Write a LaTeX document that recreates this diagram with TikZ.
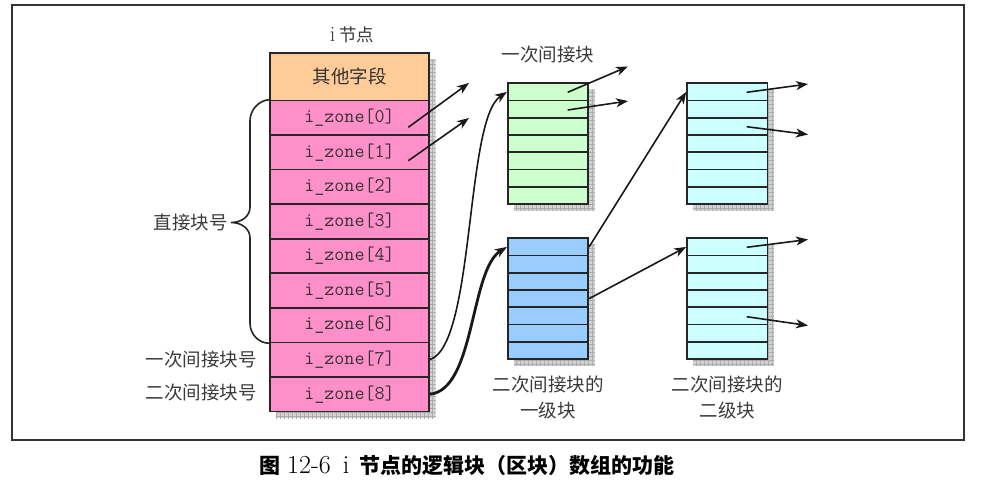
\documentclass[tikz,border=0pt]{standalone}
\usepackage{fontspec}
\newfontfamily\cjk{Noto Sans CJK SC}
\usetikzlibrary{arrows.meta,calc}
\definecolor{zonepink}{HTML}{FF8FC8}
\definecolor{hdrorange}{HTML}{FFCC99}
\definecolor{lvgreen}{HTML}{CCFFCC}
\definecolor{lvblue}{HTML}{99CCFF}
\definecolor{lvcyan}{HTML}{CCFFFF}
\definecolor{txtgray}{HTML}{3A3A3A}
\newcommand\dropshadow[4]{%
  \begin{scope}
    \clip (#1+6,#2+6) rectangle (#3+6.5,#4+6.5);
    \fill[gray!35] (#1+6,#2+6) rectangle (#3+6.5,#4+6.5);
    \draw[gray!65,line width=0.4pt,step=4pt] (#1,#2) grid (#3+7,#4+7);
  \end{scope}}
\begin{document}
\begin{tikzpicture}[x=1pt,y=-1pt,
  zone/.style={draw=black!85,line width=1.7pt,fill=zonepink,minimum width=159pt,minimum height=34.55pt,inner sep=0pt,font=\fontsize{19.5}{20}\selectfont\ttfamily,text=black!80},
  hdr/.style={zone,fill=hdrorange,minimum height=47.5pt,font=\fontsize{18.5}{22}\selectfont\cjk},
  blk/.style={draw=black!85,line width=1.7pt,fill=#1,minimum width=80.5pt,minimum height=17.24pt,inner sep=0pt},
  lbl/.style={font=\fontsize{18.5}{26}\selectfont\cjk,text=txtgray,inner sep=0pt},
  arr/.style={-{Stealth[length=12pt,width=9pt,inset=3.5pt]},line width=1.6pt,draw=black!90},
]
\useasboundingbox (0,0) rectangle (981,491);
% frame
\draw[line width=2pt,black!80] (12,5) rectangle (964,439.5);

% inode table
\dropshadow{270}{53}{429}{411.5}
\node[hdr] (hdr) at (349.5,76.75) {其他字段};
\foreach \k in {0,...,8}
  \node[zone] (z\k) at (349.5,{100.5+34.55*(\k+0.5)}) {i\_zone[\k]};

% blocks
\foreach \nm/\x/\y/\c in {g/548/83.3/lvgreen, b/548/238.3/lvblue, c/727.3/83.3/lvcyan, d/727.3/238.3/lvcyan}{
  \dropshadow{\x-40.25}{\y}{\x+40.25}{\y+120.7}
  \foreach \r in {1,...,7}
    \node[blk=\c] (\nm\r) at (\x,{\y+17.24*(\r-0.5)}) {};
}

% labels
\node[lbl,font=\fontsize{17.5}{20}\selectfont\cjk] (ti) at (352,35) {{\fontsize{22}{20}\selectfont\rmfamily i} 节点};
\node[lbl] (tg) at (548,55) {一次间接块};
\node[lbl,align=center] (tb) at (548,397) {二次间接块的\\一级块};
\node[lbl,align=center] (td) at (727.3,397) {二次间接块的\\二级块};
\node[lbl,anchor=east] (l7) at (257,359) {一次间接块号};
\node[lbl,anchor=east] (l8) at (257,392) {二次间接块号};
\node[lbl,anchor=east] (ld) at (228,222.5) {直接块号};

% brace
\coordinate (tip) at (231,222.5);
\draw[line width=1.6pt,black!85] (z0.north west) .. controls (259,100.5) and (250,109.5) .. (250,121)
  -- (250,207) .. controls (250,216) and (242,222.5) .. (tip)
  .. controls (242,222.5) and (250,229) .. (250,238)
  -- (250,323) .. controls (250,334.5) and (259,343.3) .. (z6.south west);

% direct pointers
\coordinate (s0) at (408.3,127.3); \coordinate (e0) at (469,83);
\coordinate (s1) at (408.3,160.7); \coordinate (e1) at (469,118);
\draw[arr] (s0) -- (e0);
\draw[arr] (s1) -- (e1);

% indirect pointers
\draw[arr] (z7.east) .. controls (475,345) and (465,120) .. (g1.west);
\draw[arr,line width=2.8pt] (z8.east) .. controls (475,390) and (470,270) .. (b1.west);

% green block pointers
\coordinate (gs1) at (567.7,92.3); \coordinate (ge1) at (628,66.5);
\coordinate (gs2) at (567.7,110); \coordinate (ge2) at (628,101);
\draw[arr] (gs1) -- (ge1);
\draw[arr] (gs2) -- (ge2);

% blue to cyan
\draw[arr] (b1.east) -- (c1.west);
\draw[arr] (b4.east) -- (d1.west);

% cyan pointers
\coordinate (cs1) at (746.7,92.3); \coordinate (ce1) at (808,84);
\coordinate (cs3) at (746.7,126.7); \coordinate (ce3) at (808,134.5);
\coordinate (ds1) at (746.7,247.3); \coordinate (de1) at (808,239.5);
\coordinate (ds5) at (746.7,316.7); \coordinate (de5) at (808,325.5);
\draw[arr] (cs1) -- (ce1);
\draw[arr] (cs3) -- (ce3);
\draw[arr] (ds1) -- (de1);
\draw[arr] (ds5) -- (de5);

% caption
\node[anchor=west,inner sep=0pt,font=\fontsize{21}{24}\selectfont] (cap) at (259,466)
  {{\cjk\bfseries 图}\hspace{7pt}{\fontsize{26}{26}\selectfont\rmfamily 12-6\hspace{12pt}i}\hspace{10pt}{\cjk\bfseries 节点的逻辑块（区块）数组的功能}};
\end{tikzpicture}
\end{document}
